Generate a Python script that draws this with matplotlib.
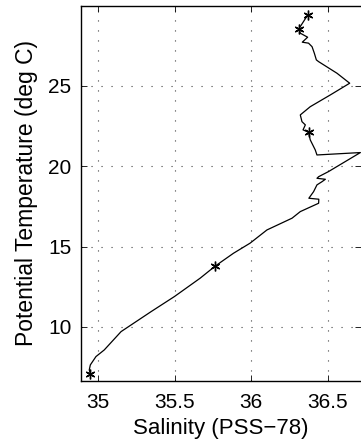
import matplotlib
matplotlib.use("Agg")
import matplotlib.pyplot as plt
from matplotlib.ticker import FormatStrFormatter

plt.rcParams['font.family'] = ['Liberation Sans', 'DejaVu Sans']
plt.rcParams['lines.scale_dashes'] = False

# Profile (deep -> surface)
salinity = [34.948, 34.941, 34.948, 34.985, 35.039, 35.149, 35.345, 35.498, 35.666,
            35.764, 35.884, 35.993, 36.103, 36.267, 36.321, 36.441, 36.442, 36.377,
            36.408, 36.430, 36.463, 36.485, 36.430, 36.441, 36.506, 36.714, 36.430,
            36.419, 36.386, 36.375, 36.339, 36.354, 36.332, 36.321, 36.386, 36.517,
            36.644, 36.561, 36.441, 36.426, 36.413, 36.398, 36.375, 36.334, 36.369,
            36.321, 36.312, 36.371]
temperature = [7.08, 7.33, 7.64, 8.16, 8.57, 9.71, 10.95, 11.89, 13.03,
               13.78, 14.58, 15.21, 16.03, 16.76, 17.17, 17.69, 17.94, 18.00,
               18.41, 18.83, 19.03, 19.18, 19.24, 19.34, 19.66, 20.84, 20.69,
               21.00, 21.63, 22.10, 22.25, 22.56, 22.76, 23.18, 23.69, 24.42,
               25.15, 25.77, 26.49, 26.60, 27.01, 27.42, 27.64, 27.70, 28.01,
               28.26, 28.54, 29.41]

# Marked sample points
star_s = [34.948, 35.764, 36.375, 36.312, 36.371]
star_t = [7.08, 13.78, 22.10, 28.54, 29.41]

xticks = [35, 35.5, 36, 36.5]
yticks = [10, 15, 20, 25]

fig = plt.figure(figsize=(3.61, 4.45), dpi=100)
ax = fig.add_axes([81/361, 1-381/445, 1 - 81/361, (381-6)/445])

ax.plot(salinity, temperature, color='black', lw=0.9)
ax.plot(star_s, star_t, linestyle='none', marker=(6, 2, 0), color='black', ms=7, mew=1.0)

ax.set_xlim(34.887, 36.718)
ax.set_ylim(6.64, 29.95)
ax.set_xticks(xticks)
ax.set_yticks(yticks)
ax.xaxis.set_major_formatter(FormatStrFormatter('%g'))
ax.yaxis.set_major_formatter(FormatStrFormatter('%g'))

ax.tick_params(direction='in', top=True, right=True, labelsize=15, length=4, width=0.6, colors='black')
ax.tick_params(axis='x', pad=9)
ax.tick_params(axis='y', pad=7)
ax.grid(True, color='0.25', linestyle=(0, (0.8, 6.4)), linewidth=0.8)
for sp in ax.spines.values():
    sp.set_linewidth(1.0)
ax.spines['right'].set_visible(False)

ax.set_xlabel('Salinity (PSS\u221278)', fontsize=16, labelpad=4)
ax.set_ylabel('Potential Temperature (deg C)', fontsize=16.5, labelpad=7)

fig.savefig('out.png', dpi=100)
